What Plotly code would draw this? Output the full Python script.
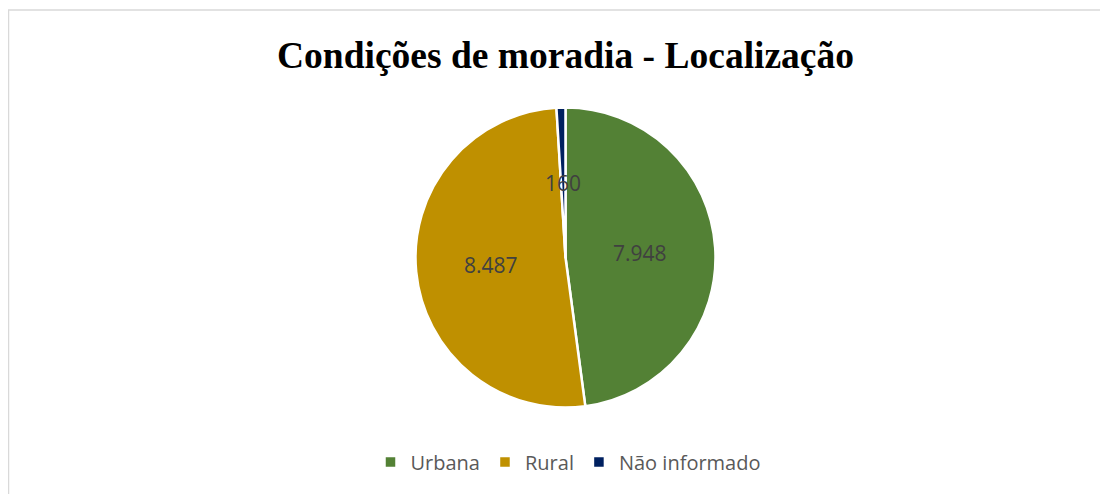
import math
import plotly.graph_objects as go

categories = ["Urbana", "Rural", "Não informado"]
values = [7948, 8487, 160]
colors = ["#538135", "#BF9000", "#002060"]
title_text = "Condições de moradia - Localização"

W, H = 1108, 494
OFF = 8  # page body margin: figure drawn 8px right/down in the window


def px(x):
    return (x - OFF) / W


def py(y):
    return (H - (y - OFF)) / H


cx_win, cy_win, r_px = 565.5, 257.5, 150

dom_x = [2 * px(cx_win) - 1, 1.0]
dom_y = [py(cy_win + r_px), py(cy_win - r_px)]

fig = go.Figure()
fig.add_trace(go.Pie(
    labels=categories,
    values=values,
    marker=dict(colors=colors, line=dict(color="white", width=2.5)),
    sort=False,
    direction="clockwise",
    rotation=0,
    textinfo="none",
    hoverinfo="label+value",
    domain=dict(x=dom_x, y=dom_y),
))

# data labels at half radius along each slice bisector
total = sum(values)
cum = 0
annotations = []
for cat, v in zip(categories, values):
    mid = (cum + v / 2) / total * 2 * math.pi
    cum += v
    x_w = cx_win + 0.5 * r_px * math.sin(mid)
    y_w = cy_win - 0.5 * r_px * math.cos(mid)
    annotations.append(dict(
        x=px(x_w), y=py(y_w), xref="paper", yref="paper",
        text=f"{v:,}".replace(",", "."), showarrow=False,
        font=dict(family="Open Sans", size=21, color="#404040"),
        xanchor="center", yanchor="middle",
    ))

fig.update_layout(
    width=W, height=H,
    margin=dict(l=0, r=0, t=0, b=0),
    paper_bgcolor="white",
    plot_bgcolor="white",
    title=dict(
        text=f"<b>{title_text}</b>",
        x=px(565.5), xanchor="center",
        y=py(55), yanchor="middle",
        font=dict(family="Liberation Serif", size=37.5, color="black"),
    ),
    legend=dict(
        orientation="h",
        x=px(568), xanchor="center",
        y=py(462), yanchor="middle",
        font=dict(family="Open Sans", size=20, color="#595959"),
        itemclick=False,
    ),
    annotations=annotations,
    shapes=[
        dict(type="line", xref="paper", yref="paper",
             x0=px(8), x1=1.0, y0=py(10), y1=py(10),
             line=dict(color="#D9D9D9", width=1.5)),
        dict(type="line", xref="paper", yref="paper",
             x0=px(8.5), x1=px(8.5), y0=0, y1=py(10),
             line=dict(color="#D9D9D9", width=1.5)),
    ],
)

fig.write_html("out.html")
